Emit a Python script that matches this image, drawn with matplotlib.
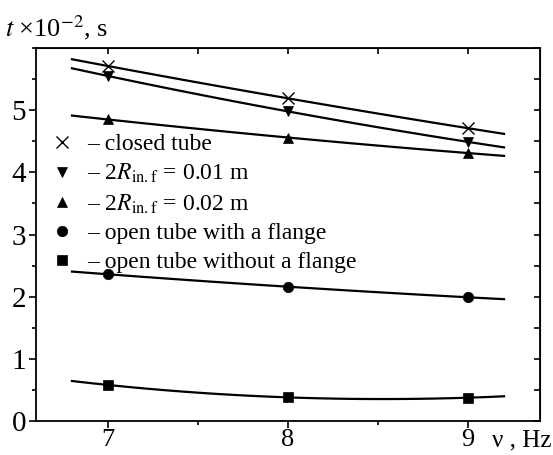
import numpy as np
import matplotlib
matplotlib.use("Agg")
import matplotlib.pyplot as plt
from matplotlib.ticker import MultipleLocator

plt.rcParams['font.family'] = ['Liberation Serif', 'DejaVu Serif']
plt.rcParams['mathtext.fontset'] = 'stix'

# frequency, Hz
nu = [7, 8, 9]

# time t x 1e-2 s for each tube configuration
t_closed = [5.71, 5.19, 4.71]
t_d001 = [5.55, 4.98, 4.49]
t_d002 = [4.85, 4.56, 4.31]
t_flange = [2.36, 2.16, 1.99]
t_noflange = [0.58, 0.38, 0.375]

labels = [
    "– closed tube",
    r"– 2$R_{\rm in.f}$ = 0.01 m",
    r"– 2$R_{\rm in.f}$ = 0.02 m",
    "– open tube with a flange",
    "– open tube without a flange",
]
markers = ["x", "v", "^", "o", "s"]
series = [t_closed, t_d001, t_d002, t_flange, t_noflange]

fig = plt.figure(figsize=(5.53, 4.55), dpi=100)
ax = fig.add_axes([36/553, 1 - 421/455, 504/553, 373/455])

# quadratic fits drawn over a slightly wider frequency range
x_fit = np.linspace(6.8, 9.2, 100)
handles = []
for y, m, lab in zip(series, markers, labels):
    c = np.polyfit(nu, y, 2)
    ax.plot(x_fit, np.polyval(c, x_fit), color="black", lw=1.6)
    ms = 8 if m == "x" else 7.5
    h, = ax.plot(nu, y, ls="none", marker=m, color="black", ms=ms,
                 mew=1.0 if m == "x" else 0.5, label=lab)
    handles.append(h)

ax.set_xlim(6.6, 9.4)
ax.set_ylim(0, 6)
ax.set_xticks([7, 8, 9])
ax.set_xticklabels(["7", "8", "9"])
ax.xaxis.set_minor_locator(MultipleLocator(0.5))
ax.set_yticks([0, 1, 2, 3, 4, 5])
ax.yaxis.set_minor_locator(MultipleLocator(0.5))
ax.tick_params(which="both", direction="out", labelsize=21, width=1.2,
               top=False, right=False)
ax.tick_params(which="major", length=5)
ax.tick_params(which="minor", length=3)
ax.tick_params(axis="x", pad=1, labelsize=19)
ax.tick_params(axis="y", pad=2)
for s in ax.spines.values():
    s.set_linewidth(1.3)

# inward ticks mirrored on top and right
ax_top = ax.secondary_xaxis("top")
ax_top.set_xticks([7, 8, 9])
ax_top.xaxis.set_minor_locator(MultipleLocator(0.5))
ax_top.tick_params(which="both", direction="in", labeltop=False, width=1.2, length=4)
ax_r = ax.secondary_yaxis("right")
ax_r.set_yticks([0, 1, 2, 3, 4, 5])
ax_r.yaxis.set_minor_locator(MultipleLocator(0.5))
ax_r.tick_params(which="both", direction="in", labelright=False, width=1.2, length=4)

ax.legend(handles=handles, loc="upper left", bbox_to_anchor=(-0.004, 0.815),
          frameon=False, fontsize=17, handlelength=1.0, handletextpad=0.55,
          labelspacing=0.3, borderaxespad=0.3)

fig.text(5/553, 1 - 28/455, r"$t$ ×10$^{-2}$, s", fontsize=19, va="center")
fig.text(492/553, 1 - 440/455, "ν , Hz", fontsize=18, va="center")

fig.savefig("out.png", dpi=100)
